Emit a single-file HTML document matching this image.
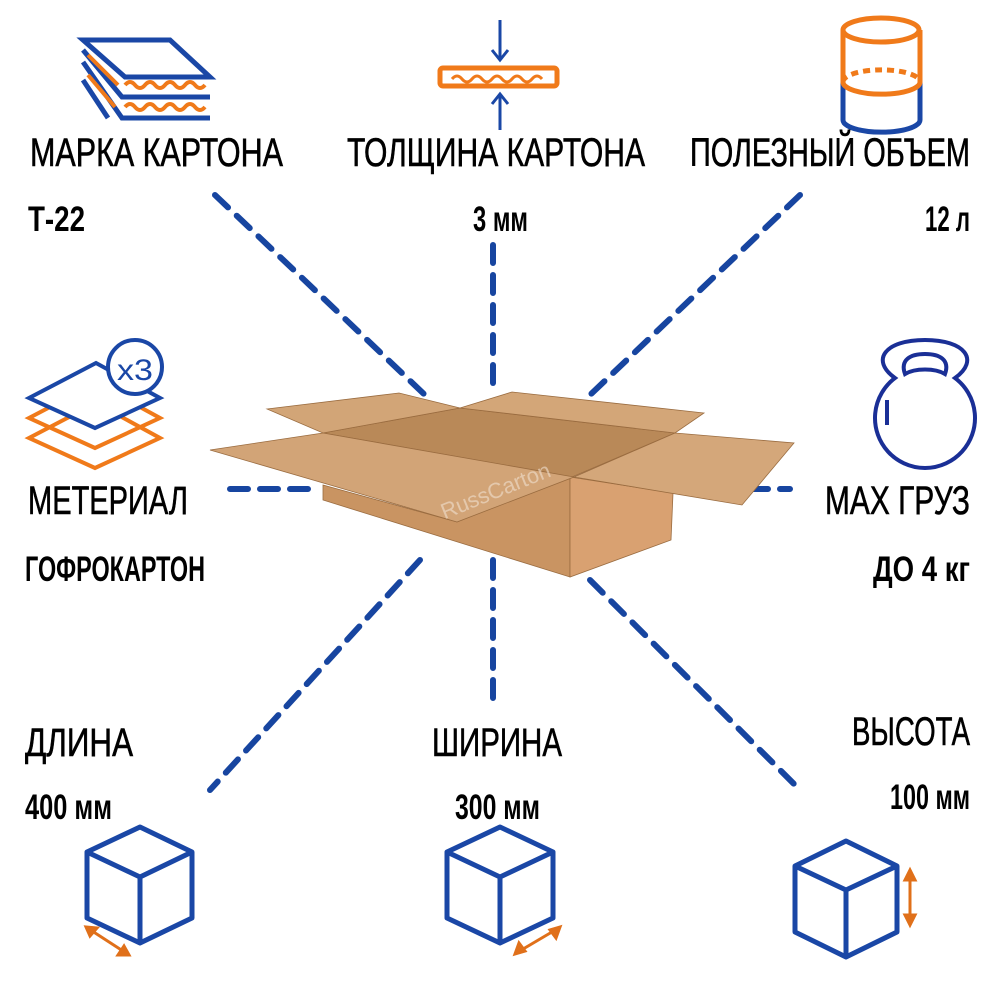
<!DOCTYPE html>
<html><head><meta charset="utf-8"><style>
html,body{margin:0;padding:0;background:#fff;width:1000px;height:1000px;overflow:hidden}
svg{display:block}
text{font-family:"Liberation Sans Narrow","Liberation Sans",sans-serif;fill:#000}
.l{font-size:40px;stroke:#000;stroke-width:0.6}
.v{font-size:35px;font-weight:bold}
</style></head><body>
<svg width="1000" height="1000" viewBox="0 0 1000 1000">
<g stroke="#1745a0" stroke-width="6" stroke-dasharray="18 12" stroke-linecap="round" fill="none">
<line x1="215" y1="195" x2="425" y2="395"/>
<line x1="493" y1="245" x2="493" y2="395"/>
<line x1="800" y1="195" x2="590" y2="395"/>
<line x1="230" y1="489" x2="320" y2="489"/>
<line x1="750" y1="489" x2="790" y2="489"/>
<line x1="420" y1="560" x2="210" y2="790"/>
<line x1="493" y1="560" x2="493" y2="700"/>
<line x1="590" y1="580" x2="800" y2="790"/>
</g>
<g stroke="#9a6c40" stroke-width="0.8">
<polygon points="323,485 457,522 570,477 570,577 323,500" fill="#c99462"/>
<polygon points="570,477 673,493 671,540 570,577" fill="#d9a171"/>
<polygon points="323,433 460,408 675,433 572,477" fill="#b98958"/>
<polygon points="267,409 399,393 460,408 323,433" fill="#d2a577"/>
<polygon points="460,408 512,392 704,413 675,433" fill="#d3a678"/>
<polygon points="675,433 794,443 742,505 574,477" fill="#d4a77a"/>
<polygon points="210,450 323,433 574,477 457,522" fill="#d2a477"/>
</g>
<text x="430" y="495" font-size="22" opacity="0.6" transform="rotate(-22 500 470)" style="fill:#f0e0d0">RussCarton</text>
<g fill="none" stroke-width="5">
<polygon points="83,40 170,40 210,77 125,77" stroke="#1a47a6"/>
<path d="M83,50 L122,97 H210" stroke="#1a47a6"/>
<path d="M83,62 L122,118 H210" stroke="#1a47a6"/>
<path d="M83,80 L108,118" stroke="#1a47a6"/>
<path d="M125,85 q5,-6 10,0 t10,0 t10,0 t10,0 t10,0 t10,0 t10,0 t10,0" stroke="#f07a1a" stroke-width="4"/>
<path d="M125,107 q5,-6 10,0 t10,0 t10,0 t10,0 t10,0 t10,0 t10,0 t10,0" stroke="#f07a1a" stroke-width="4"/>
<path d="M88,55 L118,85 M88,75 L115,107" stroke="#f07a1a" stroke-width="4"/>
</g>
<rect x="440" y="68" width="117" height="18" rx="3" fill="none" stroke="#f07a1a" stroke-width="5"/>
<path d="M452,79 q5,-6 10,0 t10,0 t10,0 t10,0 t10,0 t10,0 t10,0 t10,0 t10,0" fill="none" stroke="#f07a1a" stroke-width="3"/>
<g stroke="#1a47a6" stroke-width="3" fill="none">
<line x1="500" y1="20" x2="500" y2="60"/><path d="M492,50 L500,60 L508,50"/>
<line x1="500" y1="130" x2="500" y2="94"/><path d="M492,104 L500,94 L508,104"/>
</g>
<g fill="none" stroke-width="5">
<path d="M843,82 V120 A38,12 0 0 0 920,120 V82" stroke="#1a47a6"/>
<path d="M843,30 V82 M920,30 V82" stroke="#f07a1a"/>
<ellipse cx="881" cy="30" rx="38" ry="12" stroke="#f07a1a"/>
<path d="M843,82 A38,12 0 0 0 920,82" stroke="#f07a1a"/>
<path d="M843,82 A38,12 0 0 1 920,82" stroke="#f07a1a" stroke-dasharray="7 5"/>
</g>
<g fill="none" stroke-width="4">
<polygon points="96,403 160,438 95,468 29,438" stroke="#f07a1a"/>
<polygon points="96,383 160,418 95,448 29,418" stroke="#f07a1a"/>
<polygon points="96,363 160,398 95,428 29,398" stroke="#1a47a6" fill="#fff"/>
<circle cx="135" cy="367" r="27" stroke="#1a47a6" fill="#fff"/>
</g>
<text x="117" y="380" font-size="30" style="fill:#1a47a6" textLength="36" lengthAdjust="spacingAndGlyphs">x3</text>
<g fill="none" stroke="#1a2f96" stroke-width="4">
<path d="M895,378 C870,360 885,340 925,340 C965,340 980,360 955,378 A50,50 0 1 1 895,378 Z"/>
<path d="M905,374 C900,360 910,354 925,354 C940,354 950,360 945,374 C935,368 915,368 905,374 Z"/>
<path d="M887,400 V425"/>
</g>
<g fill="none" stroke="#1a47a6" stroke-width="5" stroke-linejoin="round">
<path d="M140,827 L192,852 V918 L140,943 L87,918 V852 Z M87,852 L140,877 L192,852 M140,877 V943"/>
<path d="M500,827 L553,852 V918 L500,943 L447,918 V852 Z M447,852 L500,877 L553,852 M500,877 V943"/>
<path d="M846,841 L897,866 V932 L846,957 L795,932 V866 Z M795,866 L846,890 L897,866 M846,890 V957"/>
</g>
<g stroke="#e0701a" stroke-width="3" fill="#e0701a">
<line x1="89" y1="929" x2="126" y2="953"/>
<polygon points="86,927 97,928 90,936"/><polygon points="129,955 118,955 124,946"/>
<line x1="518" y1="952" x2="557" y2="929"/>
<polygon points="515,954 519,943 525,951"/><polygon points="560,927 556,938 550,930"/>
<line x1="910" y1="874" x2="910" y2="921"/>
<polygon points="910,870 905,880 915,880"/><polygon points="910,925 905,915 915,915"/>
</g>
<text class="l" x="30" y="166" textLength="253" lengthAdjust="spacingAndGlyphs">МАРКА КАРТОНА</text>
<text class="l" x="347" y="166" textLength="298" lengthAdjust="spacingAndGlyphs">ТОЛЩИНА КАРТОНА</text>
<text class="l" x="690" y="166" textLength="280" lengthAdjust="spacingAndGlyphs">ПОЛЕЗНЫЙ ОБЪЕМ</text>
<text class="v" x="28" y="231" textLength="57" lengthAdjust="spacingAndGlyphs">Т-22</text>
<text class="v" x="473" y="231" textLength="55" lengthAdjust="spacingAndGlyphs">3 мм</text>
<text class="v" x="925" y="231" textLength="45" lengthAdjust="spacingAndGlyphs">12 л</text>
<text class="l" x="28" y="514" textLength="160" lengthAdjust="spacingAndGlyphs">МЕТЕРИАЛ</text>
<text class="v" x="25" y="581" textLength="180" lengthAdjust="spacingAndGlyphs">ГОФРОКАРТОН</text>
<text class="l" x="825" y="514" textLength="145" lengthAdjust="spacingAndGlyphs">MAX ГРУЗ</text>
<text class="v" x="873" y="581" textLength="97" lengthAdjust="spacingAndGlyphs">ДО 4 кг</text>
<text class="l" x="25" y="756" textLength="108" lengthAdjust="spacingAndGlyphs">ДЛИНА</text>
<text class="v" x="25" y="819" textLength="87" lengthAdjust="spacingAndGlyphs">400 мм</text>
<text class="l" x="432" y="756" textLength="130" lengthAdjust="spacingAndGlyphs">ШИРИНА</text>
<text class="v" x="455" y="819" textLength="85" lengthAdjust="spacingAndGlyphs">300 мм</text>
<text class="l" x="852" y="745" textLength="118" lengthAdjust="spacingAndGlyphs">ВЫСОТА</text>
<text class="v" x="890" y="809" textLength="80" lengthAdjust="spacingAndGlyphs">100 мм</text>
</svg>
</body></html>
